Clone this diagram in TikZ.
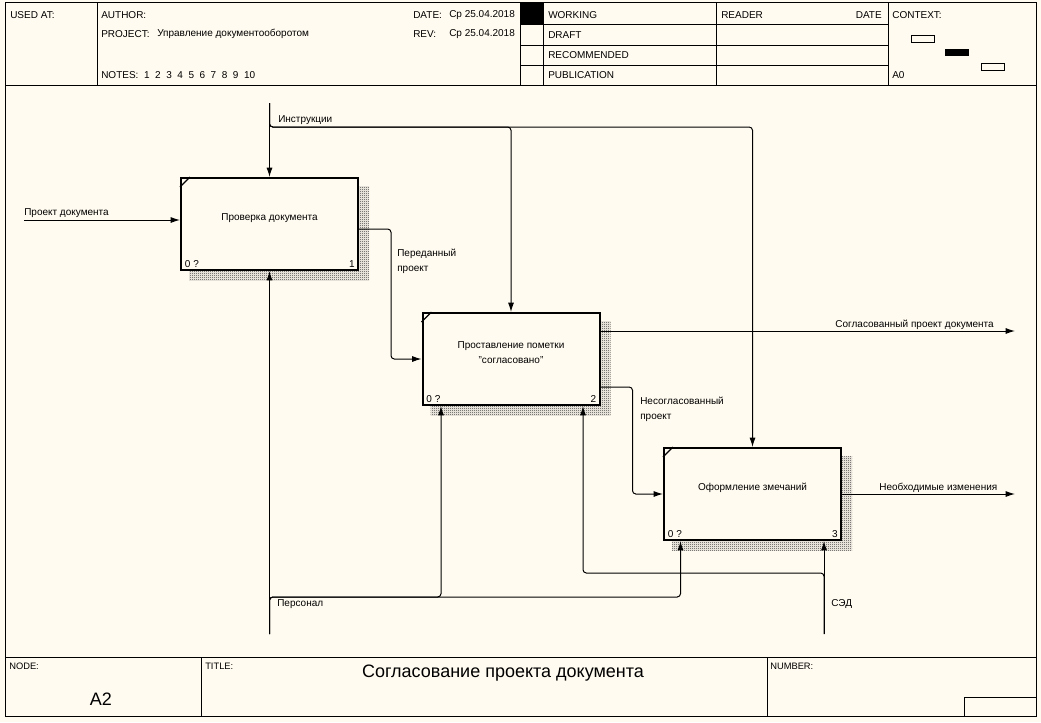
\documentclass[tikz,border=0pt]{standalone}
\usepackage{fontspec}
\setmainfont{Liberation Sans}
\usepackage{tikz}
\usetikzlibrary{arrows.meta,calc,positioning,backgrounds,patterns}
\definecolor{paper}{HTML}{FFFBF0}
\newcommand\lbl{\fontsize{7.5}{11.25}\selectfont}
\newcommand\tinylbl{\fontsize{7}{8}\selectfont}
\pgfdeclarepatternformonly{checker}{\pgfpointorigin}{\pgfpoint{1.5pt}{1.5pt}}{\pgfpoint{1.5pt}{1.5pt}}{
  \pgfpathrectangle{\pgfpointorigin}{\pgfpoint{0.75pt}{0.75pt}}
  \pgfpathrectangle{\pgfpoint{0.75pt}{0.75pt}}{\pgfpoint{0.75pt}{0.75pt}}
  \pgfusepath{fill}}
\tikzset{
  formline/.style={draw=black, line width=0.75pt},
  func/.style={draw, line width=1.5pt, fill=paper, minimum width=132.75pt, minimum height=69pt, inner sep=0pt},
  lbltext/.style={inner sep=0pt, font=\lbl, align=left},
  boxshadow/.style={pattern=checker, pattern color=black!80},
  edgeflow/.style={black, line width=0.75pt, -{Latex[length=7pt,width=4.5pt]}, rounded corners=2.5pt}
}
\begin{document}
\begin{tikzpicture}[x=0.75pt, y=-0.75pt]
\useasboundingbox (0,0) rectangle (1041,722);
\begin{scope}[on background layer]
\fill[paper] (0,0) rectangle (1041,722);
\end{scope}
% form
\draw[formline] (5,2) rectangle (1036,716);
\draw[formline] (5,85) -- (1036,85);
\draw[formline] (97,2) -- (97,85);
\draw[formline] (520,2) -- (520,85);
\draw[formline] (543,2) -- (543,85);
\draw[formline] (716,2) -- (716,85);
\draw[formline] (888,2) -- (888,85);
\draw[formline] (520,24) -- (888,24);
\draw[formline] (520,45) -- (888,45);
\draw[formline] (520,65) -- (888,65);
\fill[black] (520,2) rectangle (543,24);
\draw[formline] (911,35) rectangle (934,42);
\fill[black] (945,49) rectangle (969,56);
\draw[formline] (981,63) rectangle (1004,70);
\draw[formline] (5,657) -- (1036,657);
\draw[formline] (201,657) -- (201,716);
\draw[formline] (767,657) -- (767,716);
\draw[formline] (964,697) rectangle (1036,716);
\node[lbltext, anchor=west] (usedat) at (10,15) {USED AT:};
\node[lbltext, anchor=west] (author) at (101,15) {AUTHOR:};
\node[lbltext, anchor=west] (project) at (101,34) {PROJECT:};
\node[lbltext, anchor=west] (projname) at (157,34) {Управление документооборотом};
\node[lbltext, anchor=west] (notes) at (101,75) {NOTES:~~1~~2~~3~~4~~5~~6~~7~~8~~9~~10};
\node[lbltext, anchor=west] (date) at (413,15) {DATE:};
\node[lbltext, anchor=west] (dateval) at (449,15) {Ср 25.04.2018};
\node[lbltext, anchor=west] (rev) at (413,34) {REV:};
\node[lbltext, anchor=west] (revval) at (449,34) {Ср 25.04.2018};
\node[lbltext, anchor=west] (working) at (548,15) {WORKING};
\node[lbltext, anchor=west] (draft) at (548,35) {DRAFT};
\node[lbltext, anchor=west] (recomm) at (548,55) {RECOMMENDED};
\node[lbltext, anchor=west] (public) at (548,75) {PUBLICATION};
\node[lbltext, anchor=west] (reader) at (721,15) {READER};
\node[lbltext, anchor=east] (rdate) at (882,15) {DATE};
\node[lbltext, anchor=west] (context) at (892,15) {CONTEXT:};
\node[lbltext, anchor=west] (ctxnode) at (892,75) {A0};
\node[inner sep=0pt, font=\tinylbl, anchor=west] (nodelbl) at (9,666) {NODE:};
\node[inner sep=0pt, font=\fontsize{13.5}{15}\selectfont] (nodeval) at (101,699) {A2};
\node[inner sep=0pt, font=\tinylbl, anchor=west] (titlelbl) at (205,666) {TITLE:};
\node[inner sep=0pt, font=\fontsize{13.5}{15}\selectfont] (title) at (503,673) {Согласование проекта документа};
\node[inner sep=0pt, font=\tinylbl, anchor=west] (numberlbl) at (770,666) {NUMBER:};
% activities
\node[func] (b1) at (269.5,224) {};
\node[func] (b2) at (511,359) {};
\node[func] (b3) at (752.5,494) {};
\node[lbltext, align=center] (b1t) at ([yshift=4.5pt]b1.center) {Проверка документа};
\node[lbltext, align=center] (b2t) at ([yshift=4.5pt]b2.center) {Проставление пометки\\"согласовано"};
\node[lbltext, align=center] (b3t) at ([yshift=4.5pt]b3.center) {Оформление змечаний};
\foreach \b/\n in {b1/1,b2/2,b3/3}{
  \node[lbltext, anchor=south west] (\b c) at ([xshift=3.5pt,yshift=2.5pt]\b.south west) {0 ?};
  \node[lbltext, anchor=south east] (\b n) at ([xshift=-3pt,yshift=2.5pt]\b.south east) {\n};
  \draw[line width=1pt] ([yshift=-7.5pt]\b.north west) -- ([xshift=7.5pt]\b.north west);
}
\begin{scope}[on background layer]
\foreach \b in {b1,b2,b3}
  \fill[boxshadow] ([xshift=6.75pt,yshift=-6.75pt]\b.north west) rectangle ([xshift=7.5pt,yshift=-6.75pt]\b.south east);
\end{scope}
% arrows
\coordinate (in1) at (24,220);
\coordinate (ctl) at (269.5,103);
\coordinate (ctlbus) at (269.5,127);
\coordinate (out2) at (1015,331);
\coordinate (out3) at (1015,494);
\coordinate (mech1) at (269.5,634);
\coordinate (mbus) at (269.5,597);
\coordinate (mech2) at (824,634);
\coordinate (sbus) at (824,573);
\coordinate (b2m1) at ([xshift=-52.5pt]b2.south);
\coordinate (b2m2) at ([xshift=54pt]b2.south);
\coordinate (b3m1) at ([xshift=-54pt]b3.south);
\draw[edgeflow] (in1) -- (in1 -| b1.west);
\draw[edgeflow] (ctl) -- (b1.north);
\draw[edgeflow] (ctl) -- (ctlbus) -- (ctlbus -| b2.north) -- (b2.north);
\draw[edgeflow] (ctl) -- (ctlbus) -- (ctlbus -| b3.north) -- (b3.north);
\draw[edgeflow] ([yshift=-3.75pt]b1.east) -- ++(32,0) |- (b2.west);
\draw[edgeflow] (out2 -| b2.east) -- (out2);
\draw[edgeflow] ([yshift=-21pt]b2.east) -- ++(32,0) |- (b3.west);
\draw[edgeflow] (b3.east) -- (out3);
\draw[edgeflow] (mech1) -- (b1.south);
\draw[edgeflow] (mech1) -- (mbus) -| (b2m1);
\draw[edgeflow] (mech1) -- (mbus) -| (b3m1);
\draw[edgeflow] (mech2) -- (mech2 |- b3.south);
\draw[edgeflow] (mech2) -- (sbus) -| (b2m2);
\node[lbltext, anchor=west] (lblctl) at (278,120) {Инструкции};
\node[lbltext, anchor=west] (lblin) at (24,213) {Проект документа};
\node[lbltext, anchor=north west] (lbl12) at (397,249) {Переданный\\проект};
\node[lbltext, anchor=east] (lblout2) at (994,325) {Согласованный проект документа};
\node[lbltext, anchor=north west] (lbl23) at (640,397) {Несогласованный\\проект};
\node[lbltext, anchor=west] (lblout3) at (879,488) {Необходимые изменения};
\node[lbltext, anchor=west] (lblmech1) at (277,604) {Персонал};
\node[lbltext, anchor=west] (lblmech2) at (831,604) {СЭД};
\end{tikzpicture}
\end{document}
